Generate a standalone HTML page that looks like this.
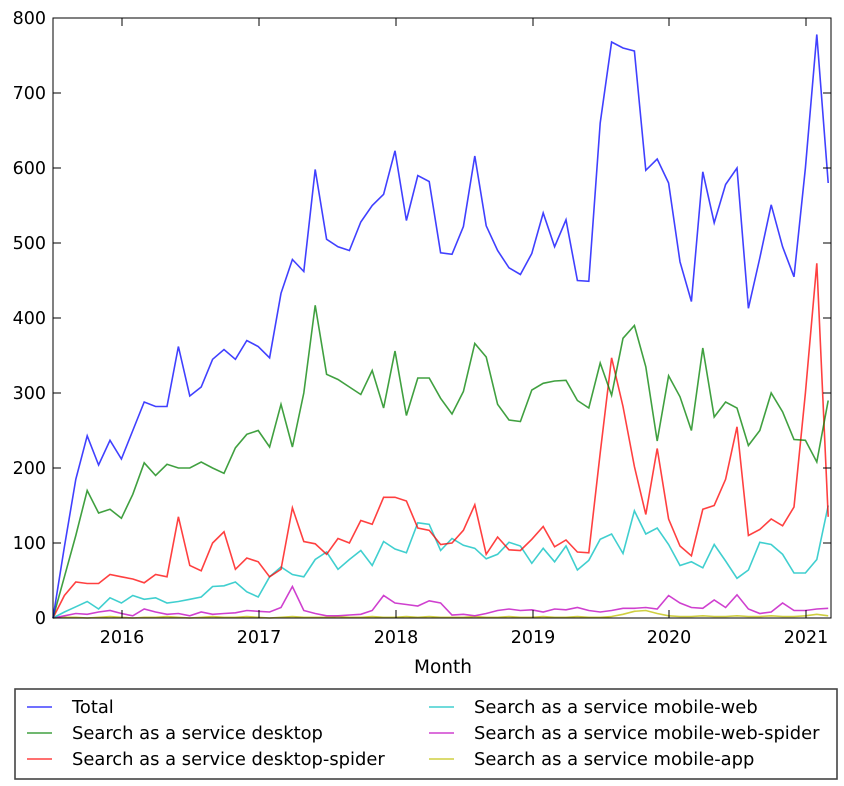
<!DOCTYPE html>
<html><head><meta charset="utf-8"><style>
body{margin:0;background:#fff;}
svg text{font-family:"DejaVu Sans","Liberation Sans",sans-serif;fill:#000;}
</style></head><body>
<svg id="s" width="844" height="781" xmlns="http://www.w3.org/2000/svg">
<rect width="844" height="781" fill="#fff"/>
<g id="plot" stroke-opacity="0.75"></g>
<rect x="53" y="18" width="778" height="600" fill="none" stroke="#000" stroke-width="1"/>
<g id="ticks" stroke="#000" stroke-width="1"></g>
<g font-size="17.5" text-anchor="end">
<text x="46" y="624">0</text><text x="46" y="549">100</text><text x="46" y="474">200</text><text x="46" y="399">300</text><text x="46" y="324">400</text><text x="46" y="249">500</text><text x="46" y="174">600</text><text x="46" y="99">700</text><text x="46" y="24">800</text>
</g>
<g font-size="17.5" text-anchor="middle">
<text x="122" y="643">2016</text><text x="259" y="643">2017</text><text x="396" y="643">2018</text><text x="533" y="643">2019</text><text x="669" y="643">2020</text><text x="806" y="643">2021</text>
<text x="443" y="673" font-size="18.5">Month</text>
</g>
<rect x="15" y="689" width="822" height="90" fill="#fff" stroke="#444" stroke-width="1.6"/>
<g stroke-width="1.6" fill="none" stroke-opacity="0.75">
<line x1="27" y1="707" x2="52" y2="707" stroke="#0000ff"/>
<line x1="27" y1="733" x2="52" y2="733" stroke="#008000"/>
<line x1="27" y1="759" x2="52" y2="759" stroke="#ff0000"/>
<line x1="429" y1="707" x2="454" y2="707" stroke="#00bfbf"/>
<line x1="429" y1="733" x2="454" y2="733" stroke="#bf00bf"/>
<line x1="429" y1="759" x2="454" y2="759" stroke="#bfbf00"/>
</g>
<g font-size="17.9">
<text x="72" y="713">Total</text>
<text x="72" y="739">Search as a service desktop</text>
<text x="72" y="765">Search as a service desktop-spider</text>
<text x="474" y="713">Search as a service mobile-web</text>
<text x="474" y="739">Search as a service mobile-web-spider</text>
<text x="474" y="765">Search as a service mobile-app</text>
</g>
</svg>
<script>
var series=[
["#bfbf00",[0,1,1,0,1,2,1,0,1,1,2,1,0,1,2,1,1,2,1,0,1,2,1,1,1,2,1,1,2,1,1,2,1,2,1,1,1,2,1,1,2,1,1,2,1,1,2,1,1,2,5,9,10,6,3,2,2,3,2,2,3,2,2,3,2,2,3,5,3]],
["#bf00bf",[0,3,6,5,8,10,6,3,12,8,5,6,3,8,5,6,7,10,9,8,14,42,10,6,3,3,4,5,10,30,20,18,16,23,20,4,5,3,6,10,12,10,11,8,12,11,14,10,8,10,13,13,14,12,30,20,14,13,24,14,31,12,6,8,20,10,10,12,13]],
["#00bfbf",[0,8,15,22,12,27,20,30,25,27,20,22,25,28,42,43,48,35,28,55,68,58,55,78,88,65,78,90,70,102,92,87,127,125,90,106,97,93,79,85,101,96,73,93,75,96,64,77,105,112,86,143,112,120,98,70,75,67,98,76,53,64,101,98,85,60,60,78,150]],
["#ff0000",[0,30,48,46,46,58,55,52,47,58,55,135,70,63,100,115,65,80,75,55,65,147,102,99,85,106,100,130,125,161,161,156,120,117,98,100,117,151,85,108,91,90,105,122,95,104,88,87,220,347,282,202,138,226,132,96,83,145,150,185,255,110,118,132,123,148,300,473,135]],
["#008000",[0,55,110,170,140,145,133,165,207,190,205,200,200,208,200,193,227,245,250,228,285,228,300,417,325,318,308,298,330,280,356,270,320,320,293,272,302,366,348,285,264,262,304,313,316,317,290,280,340,297,373,390,335,236,323,295,250,360,268,288,280,230,250,300,275,238,237,208,290]],
["#0000ff",[0,95,185,243,204,237,212,250,288,282,282,362,296,308,345,358,345,370,362,347,433,478,462,598,505,495,490,528,550,565,623,530,590,582,487,485,522,616,523,490,467,458,486,540,495,531,450,449,660,768,760,756,597,612,580,475,422,595,527,578,600,413,480,551,495,455,600,778,580]]
];
var ns="http://www.w3.org/2000/svg",g=document.getElementById("plot");
series.forEach(function(s){var p=s[1].map(function(v,i){return (53+i*11.4).toFixed(1)+","+(618-v*0.75).toFixed(1)}).join(" ");
var e=document.createElementNS(ns,"polyline");e.setAttribute("points",p);e.setAttribute("fill","none");e.setAttribute("stroke",s[0]);e.setAttribute("stroke-width","1.6");g.appendChild(e);});
var t=document.getElementById("ticks"),h="";
for(var v=0;v<=800;v+=100){var y=618-v*0.75;h+='<line x1="53" y1="'+y+'" x2="61" y2="'+y+'"/><line x1="823" y1="'+y+'" x2="831" y2="'+y+'"/>';}
[122,259,396,533,669,806].forEach(function(x){h+='<line x1="'+x+'" y1="618" x2="'+x+'" y2="610"/><line x1="'+x+'" y1="18" x2="'+x+'" y2="26"/>';});
t.innerHTML=h;
</script>
</body></html>
